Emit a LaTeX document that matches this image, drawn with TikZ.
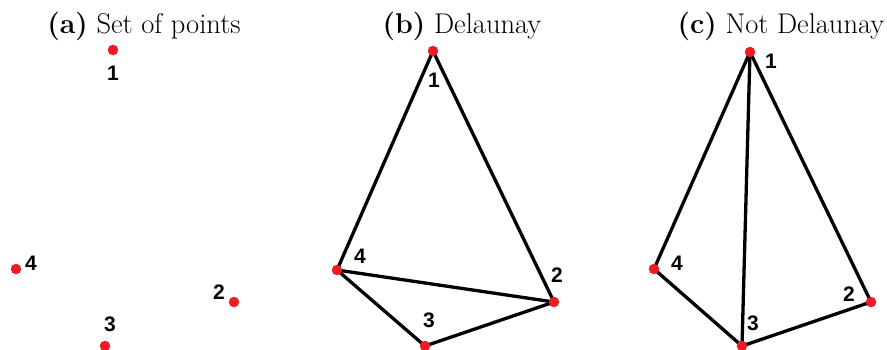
\documentclass[tikz,border=0pt]{standalone}
\usepackage{fontspec}
\newfontfamily\labfont{Liberation Sans}
\definecolor{dotred}{RGB}{237,28,36}
\begin{document}
\begin{tikzpicture}[x=1pt,y=-1pt,
  pt/.style={circle,fill=dotred,inner sep=0pt,minimum size=10.5pt},
  edge/.style={line width=3.3pt,line cap=round},
  lab/.style={font=\labfont\bfseries\fontsize{21}{22}\selectfont,inner sep=0pt},
  ttl/.style={font=\fontsize{28.5}{32}\selectfont,inner sep=0pt,anchor=base}]
\useasboundingbox (0,0) rectangle (887,349);
% titles
\node[ttl] (ta) at (144,33) {\textbf{(a)} Set of points};
\node[ttl] (tb) at (462,33) {\textbf{(b)} Delaunay};
\node[ttl] (tc) at (781,33) {\textbf{(c)} Not Delaunay};
% panel a
\coordinate (a1) at (113,50);
\coordinate (a2) at (234,302);
\coordinate (a3) at (105,346);
\coordinate (a4) at (16,269);
% panel b
\coordinate (b1) at (433,51);
\coordinate (b2) at (554,302);
\coordinate (b3) at (425,346);
\coordinate (b4) at (337,270);
% panel c
\coordinate (c1) at (750,52);
\coordinate (c2) at (871,302);
\coordinate (c3) at (742,346);
\coordinate (c4) at (654,269);
% edges
\draw[edge] (b1) -- (b4) -- (b3) -- (b2) -- (b1);
\draw[edge] (b4) -- (b2);
\draw[edge] (c1) -- (c4) -- (c3) -- (c2) -- (c1);
\draw[edge] (c1) -- (c3);
% points
\foreach \p in {a1,a2,a3,a4,b1,b2,b3,b4,c1,c2,c3,c4}
  \node[pt] (n\p) at (\p) {};
% labels
\node[lab] (la1) at (113,73) {1};
\node[lab] (la4) at (31,263) {4};
\node[lab] (la2) at (219,292) {2};
\node[lab] (la3) at (110,324) {3};
\node[lab] (lb1) at (434,80) {1};
\node[lab] (lb4) at (360,256) {4};
\node[lab] (lb2) at (557,275) {2};
\node[lab] (lb3) at (429,320) {3};
\node[lab] (lc1) at (771,61) {1};
\node[lab] (lc4) at (677,263) {4};
\node[lab] (lc2) at (849,294) {2};
\node[lab] (lc3) at (753,323) {3};
\end{tikzpicture}
\end{document}
